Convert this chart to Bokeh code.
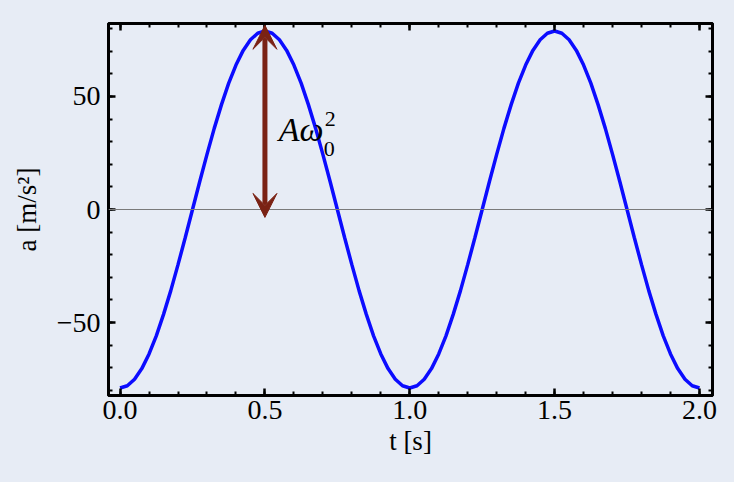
from bokeh.plotting import figure
from bokeh.models import (Range1d, LinearAxis, SingleIntervalTicker, CustomJSTickFormatter,
                          Span, Arrow, VeeHead, Label, ColumnDataSource)
from bokeh.embed import file_html
from bokeh.resources import INLINE

# ---- data ----
t = [i * 0.025 for i in range(81)]
a = [-79.0, -78.0, -75.1, -70.4, -63.9, -55.9, -46.4, -35.9, -24.4, -12.4,
     0.0, 12.4, 24.4, 35.9, 46.4, 55.9, 63.9, 70.4, 75.1, 78.0,
     79.0, 78.0, 75.1, 70.4, 63.9, 55.9, 46.4, 35.9, 24.4, 12.4,
     0.0, -12.4, -24.4, -35.9, -46.4, -55.9, -63.9, -70.4, -75.1, -78.0,
     -79.0, -78.0, -75.1, -70.4, -63.9, -55.9, -46.4, -35.9, -24.4, -12.4,
     0.0, 12.4, 24.4, 35.9, 46.4, 55.9, 63.9, 70.4, 75.1, 78.0,
     79.0, 78.0, 75.1, 70.4, 63.9, 55.9, 46.4, 35.9, 24.4, 12.4,
     0.0, -12.4, -24.4, -35.9, -46.4, -55.9, -63.9, -70.4, -75.1, -78.0,
     -79.0]

x_limits = (-0.04, 2.045)
y_limits = (-82.3, 82.3)
x_tick_interval = 0.5
y_tick_interval = 50
arrow_t = 0.5
arrow_from = -3.5
arrow_to = 81.5
label_t = 0.548
label_a = 35.4
x_title = "t [s]"
y_title = "a [m/s²]"

BG = "#e7ecf5"
FONT = "Liberation Serif"
BLUE = "#0c0cff"
RED = "#7a2214"

p = figure(width=718, height=466, output_backend="svg", toolbar_location=None,
           x_range=Range1d(*x_limits), y_range=Range1d(*y_limits),
           min_border_left=108, min_border_right=6, min_border_top=23, min_border_bottom=71,
           background_fill_color=BG, border_fill_color=BG,
           outline_line_color="black", outline_line_width=3)
p.xgrid.visible = False
p.ygrid.visible = False

minus_fmt = CustomJSTickFormatter(code="""
  var s = (Math.abs(tick) < 1e-9) ? '0' : tick.toString();
  return s.replace('-', '\u2212');
""")
x_fmt = CustomJSTickFormatter(code="return tick.toFixed(1);")
blank = CustomJSTickFormatter(code="return '';")

def style(ax):
    ax.axis_line_color = "black"
    ax.axis_line_width = 3
    ax.major_tick_in = 7
    ax.major_tick_out = 0
    ax.minor_tick_in = 4
    ax.minor_tick_out = 0
    ax.major_tick_line_width = 2.5
    ax.minor_tick_line_width = 2
    ax.major_tick_line_color = "black"
    ax.minor_tick_line_color = "black"
    ax.major_label_text_font = FONT
    ax.major_label_text_font_size = "28px"
    ax.major_label_text_color = "black"
    ax.axis_label_text_font = FONT
    ax.axis_label_text_font_size = "27px"
    ax.axis_label_text_font_style = "normal"
    ax.axis_label_text_color = "black"

p.xaxis.ticker = SingleIntervalTicker(interval=x_tick_interval, num_minor_ticks=5)
p.yaxis.ticker = SingleIntervalTicker(interval=y_tick_interval, num_minor_ticks=5)
p.xaxis.formatter = x_fmt
p.yaxis.formatter = minus_fmt
for ax in p.xaxis + p.yaxis:
    style(ax)
p.xaxis.major_label_standoff = 5
p.yaxis.major_label_standoff = 8
p.xaxis.axis_label = x_title
p.yaxis.axis_label = y_title
p.xaxis.axis_label_standoff = 4
p.yaxis.axis_label_standoff = 12

top = LinearAxis(ticker=SingleIntervalTicker(interval=x_tick_interval, num_minor_ticks=5),
                 formatter=blank)
right = LinearAxis(ticker=SingleIntervalTicker(interval=y_tick_interval, num_minor_ticks=5),
                   formatter=blank)
for ax in (top, right):
    style(ax)
    ax.major_label_standoff = 0
    ax.major_label_text_font_size = "1px"
p.add_layout(top, "above")
p.add_layout(right, "right")

p.add_layout(Span(location=0, dimension="width", line_color="#7a7a7a", line_width=1))

src = ColumnDataSource(dict(t=t, a=a))
p.line("t", "a", source=src, line_color=BLUE, line_width=3.5)

p.add_layout(Arrow(x_start=arrow_t, y_start=arrow_from, x_end=arrow_t, y_end=arrow_to,
                   line_color=RED, line_width=5,
                   start=VeeHead(size=24, fill_color=RED, line_color=RED, line_width=1),
                   end=VeeHead(size=24, fill_color=RED, line_color=RED, line_width=1)))

common = dict(x=label_t, y=label_a, text_font=FONT, text_color="black",
              text_baseline="alphabetic")
p.add_layout(Label(text="Aω", text_font_style="italic", text_font_size="34px", **common))
p.add_layout(Label(text="0", text_font_size="22px", x_offset=45, y_offset=-20, **common))
p.add_layout(Label(text="2", text_font_size="22px", x_offset=46, y_offset=10, **common))

html = file_html(p, INLINE)
html = html.replace("</head>",
                    "<style>html, body { background-color: %s; }</style>\n</head>" % BG, 1)
open("out.html", "w").write(html)
